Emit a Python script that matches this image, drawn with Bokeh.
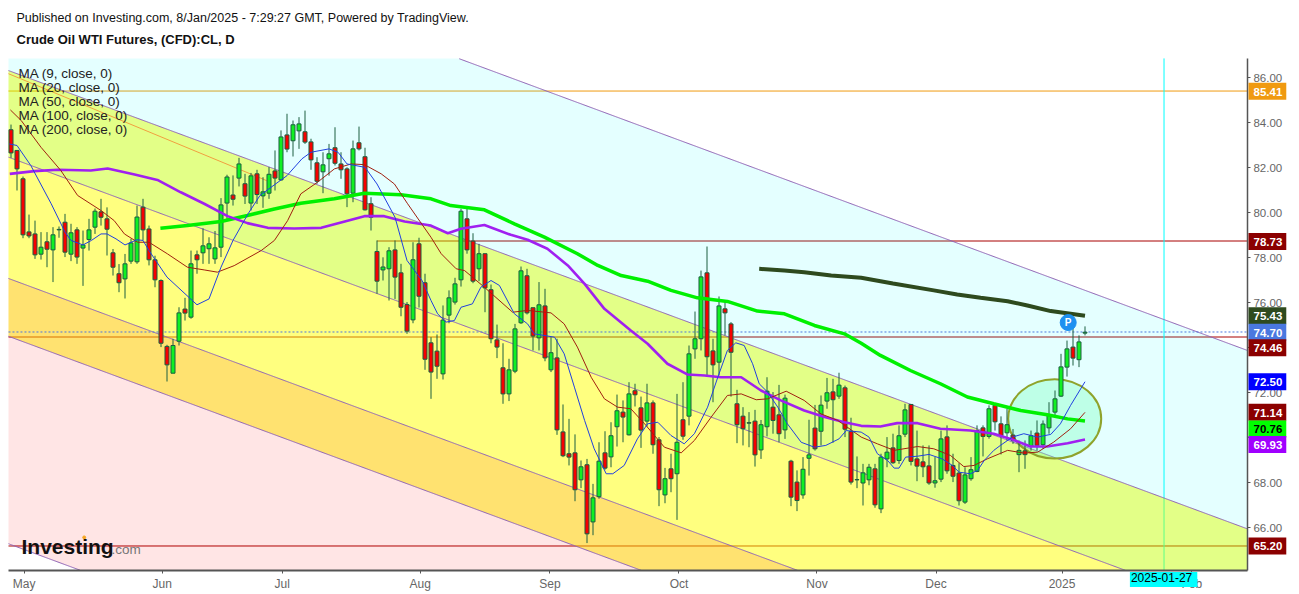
import numpy as np
from bokeh.plotting import figure
from bokeh.models import Range1d, LinearAxis, FixedTicker, Label, NumeralTickFormatter
from bokeh.core.properties import value
from bokeh.embed import file_html
from bokeh.resources import INLINE

open_ = [83.70,82.78,81.52,79.16,79.07,78.17,78.72,78.36,79.25,79.59,
78.17,79.25,78.44,78.82,79.37,80.05,79.74,78.23,77.30,77.07,
77.86,77.83,80.26,79.29,77.92,77.00,74.07,72.88,74.30,75.73,
75.37,78.14,78.23,78.41,77.96,78.48,80.44,80.80,81.55,81.30,
80.44,81.74,80.76,80.88,81.87,81.47,83.47,83.21,83.65,83.61,
83.16,82.23,81.83,82.41,82.90,82.18,81.96,80.88,83.12,82.50,
80.41,78.29,77.47,77.52,78.36,77.34,75.93,75.25,78.63,76.90,
74.23,73.86,72.85,75.46,76.04,77.03,79.74,78.75,77.52,78.19,
76.59,74.36,73.12,71.96,72.97,75.12,77.21,75.79,74.45,75.87,
73.03,73.56,70.27,69.30,69.34,68.14,68.81,66.27,67.39,69.34,
69.16,70.50,71.15,70.14,72.10,71.34,70.75,71.56,69.92,67.47,
68.63,68.41,70.81,70.97,73.96,74.41,77.34,73.87,73.37,75.74,
75.07,71.52,70.97,70.68,70.75,69.47,70.50,71.37,71.03,70.36,
68.97,68.04,67.47,69.10,70.44,70.30,71.64,72.05,71.86,72.23,
70.29,68.15,68.00,68.14,68.63,66.85,69.07,69.56,69.00,70.17,
71.49,69.07,68.94,68.76,68.00,68.17,70.05,68.78,68.44,67.15,
68.19,68.51,70.45,70.07,71.45,70.63,70.23,70.13,69.26,69.43,
69.64,70.22,69.70,70.45,71.15,71.86,73.15,74.04,73.48,74.66]
close = [82.67,81.96,79.03,78.98,78.14,78.48,78.39,79.03,79.27,78.26,
79.12,78.04,78.58,79.25,80.08,79.81,79.28,77.59,76.90,77.74,
78.67,79.82,79.25,77.92,77.03,74.21,73.25,74.11,75.56,75.55,
77.74,77.92,78.54,78.63,78.45,80.36,81.60,80.61,82.18,80.75,
81.65,80.82,80.94,81.72,81.55,83.38,82.84,83.92,83.96,83.15,
82.36,81.41,82.14,82.63,82.21,81.92,80.85,82.85,82.85,80.14,
79.81,76.97,77.60,78.32,77.15,75.81,74.75,77.92,76.30,73.50,
72.93,73.19,75.24,76.23,76.85,80.08,78.36,76.97,78.19,76.67,
74.41,74.04,71.96,73.03,74.85,77.43,75.56,74.53,75.92,73.56,
73.79,70.36,69.21,69.15,67.70,68.72,65.74,67.34,68.97,68.66,
70.10,71.21,70.93,71.96,71.92,70.35,71.56,69.70,67.70,68.19,
68.19,69.81,70.08,73.74,74.41,77.16,73.61,73.25,75.87,75.56,
73.81,70.59,70.41,70.66,69.25,70.59,72.08,70.78,70.19,71.77,
67.37,67.22,68.61,69.25,69.52,71.46,72.01,71.70,72.35,70.39,
68.04,68.14,68.45,68.70,67.03,69.15,69.37,68.90,70.10,71.25,
68.96,68.75,68.72,68.00,68.10,69.96,68.54,68.30,67.21,68.36,
68.59,70.33,70.07,71.30,70.72,70.10,70.59,69.89,69.45,69.26,
70.10,69.67,70.62,71.04,71.74,73.16,73.96,73.55,74.27,74.70]
high = [83.93,82.80,81.62,79.93,79.66,79.15,79.15,79.37,79.40,79.96,
79.52,79.37,79.22,79.74,80.20,80.63,80.25,78.40,77.73,78.18,
78.85,80.33,80.63,79.44,78.10,77.05,74.14,74.41,75.81,76.23,
78.33,78.33,79.32,78.92,79.20,80.66,81.70,81.67,82.45,81.74,
81.78,81.92,81.59,82.04,82.78,83.67,84.41,84.11,84.26,84.55,
83.30,82.48,82.70,83.07,83.81,82.70,82.03,83.22,83.84,82.90,
80.70,78.78,78.03,78.48,78.78,77.74,76.04,78.70,78.90,77.30,
74.48,74.60,75.89,76.56,77.12,80.19,80.19,79.10,78.63,78.20,
76.82,75.04,74.21,73.52,75.07,77.62,77.52,75.79,76.93,76.63,
74.48,74.41,71.49,70.85,70.16,69.00,69.07,67.96,69.81,70.30,
70.70,71.93,71.67,72.48,72.41,71.84,72.41,71.67,70.04,68.67,
69.30,71.96,72.48,74.11,75.62,77.44,78.51,74.41,76.29,76.04,
75.15,72.14,71.37,71.15,71.25,70.80,72.70,72.04,72.36,71.93,
69.03,68.56,69.15,70.81,71.47,71.89,72.67,72.63,72.90,72.33,
70.90,69.18,68.85,68.85,68.85,69.30,70.04,70.19,70.56,71.52,
71.49,70.33,69.67,69.67,69.15,70.33,70.56,69.30,68.88,68.70,
69.15,70.56,70.56,71.45,71.52,70.96,71.30,70.40,69.89,69.89,
70.33,70.78,70.78,71.59,72.11,73.74,74.33,74.93,74.56,74.96]
low = [82.45,81.00,78.88,78.88,77.96,77.93,77.59,76.93,78.90,78.04,
77.86,77.74,76.76,78.33,79.07,79.44,78.11,77.22,76.48,76.20,
77.74,77.74,78.78,77.67,76.70,74.04,72.51,72.88,74.11,75.22,
75.30,77.30,77.74,77.74,77.74,78.04,79.67,80.33,81.18,80.40,
80.11,80.40,80.23,80.63,81.00,81.44,82.70,82.51,82.85,83.07,
81.92,81.30,80.88,81.66,82.11,81.52,80.26,80.48,82.78,80.11,
79.22,76.41,77.00,76.11,76.18,75.41,74.63,75.10,75.80,73.03,
71.74,72.63,72.60,75.10,75.93,76.73,78.19,76.88,76.97,75.59,
74.21,73.55,71.52,71.64,72.88,75.07,75.49,73.89,73.89,73.41,
72.93,70.14,69.15,68.78,67.19,67.77,65.33,65.68,67.30,68.59,
68.70,69.62,69.81,70.11,71.40,69.56,70.51,69.30,66.97,67.10,
67.59,66.36,69.92,70.56,73.52,73.89,72.78,71.59,72.78,74.56,
71.84,69.77,69.67,69.59,68.73,69.07,70.07,70.19,69.81,69.96,
66.97,66.75,67.30,68.33,69.44,69.67,71.30,69.79,71.74,70.04,
67.93,67.77,67.00,67.90,66.90,66.66,68.70,68.85,68.85,70.04,
68.78,68.08,68.26,67.92,67.79,68.04,68.41,68.04,67.00,67.07,
68.10,68.48,69.18,69.97,70.33,69.27,69.89,69.74,68.48,68.63,
69.44,69.44,69.52,70.19,71.00,71.82,72.73,73.22,73.15,74.56]

ma9_x = [-0.3,1,3.3,6.7,9,10,12,13.4,15,16,17.5,19,21,22,23,26,29,31,33,35,37,39.5,41.5,44.5,46,48.5,50,53,54.5,56,59,61,64,66,68.5,70,
71.1,72.5,73.9,75,76.9,78.3,80,81.4,83.9,86.1,87.2,90.6,92.2,93.9,95.6,97.2,99.2,100.3,102.2,104.4,106.1,107.8,110,112.2,113.9,116.1,117.8,119.4,120.8,122.2,123.6,124.7,126.1,127.8,129.4,131.7,133.9,135.8,138,139.2,141.7,
143,144.4,146.1,147.2,148,149.1,151.1,153,155.2,156.9,158,159.9,161.1,162.2,163.8,164.9,166.9,168.8,171.1,173.3,174.9,176.6,179]
ma9_v = [83.07,83.0,82.11,80.41,79.15,78.78,78.58,78.78,79.07,79.07,78.85,78.58,78.81,78.78,78.33,77.15,76.41,75.92,76.18,77.59,78.78,79.96,80.78,81.37,81.66,82.41,82.7,82.85,82.7,82.18,82.03,81.29,79.81,77.89,77.0,76.11,
75.52,75.15,75.22,75.81,75.96,76.7,77.0,76.78,75.52,75.07,74.63,74.48,73.74,72.26,70.78,69.52,68.41,68.41,68.78,69.96,70.63,70.7,70.11,69.74,70.19,71.37,72.7,73.89,74.23,74.11,73.3,72.41,72.04,71.37,70.63,69.81,69.59,69.67,69.96,70.33,70.26,
70.04,69.3,69.0,68.66,68.66,69.15,69.19,69.27,69.07,68.78,68.48,68.41,68.56,69.0,69.45,69.67,70.04,70.19,70.04,70.16,70.63,71.45,72.5]
ma20_x = [-0.1,1.7,5,8.3,11.1,15,17.2,18.9,21.1,23,26.1,29.4,32.2,34.4,37.2,41.7,43.9,46.1,48.3,51.1,53.9,56.7,58.9,61.7,63.9,66.1,70,
71.7,74.2,75.6,78.9,83.6,86.1,90,92.2,94.4,96.7,98.9,101.1,103.3,105.6,108.9,111.7,113.9,116.7,119.4,121.7,124.2,126.1,129.2,132.2,135,137.8,141.7,
144.4,147.2,151.1,153.8,156.6,158.8,160.5,162.7,166.1,168.8,171.1,173.8,176.6,179]
ma20_v = [84.58,84.11,82.92,81.89,80.78,80.11,79.66,79.07,78.7,78.7,78.18,77.59,77.47,77.37,77.66,78.33,78.78,79.66,80.85,81.37,81.96,82.18,82.15,81.74,81.29,80.41,78.92,
78.19,77.52,77.44,76.7,75.59,75.67,75.56,75.07,74.04,72.7,71.74,71.37,71.3,70.63,69.59,69.34,69.89,70.93,71.89,71.96,71.7,71.74,72.08,71.67,71.07,70.78,70.04,
69.74,69.45,69.62,69.52,69.22,68.73,68.78,69.07,69.45,69.33,69.37,69.82,70.41,71.14]
ma50_x = [-0.2,3.9,7.8,13.3,16.1,20.6,24.4,28.3,32.2,36.1,39.4,42.8,47.2,51.7,56.1,58.9,62.2,65.6,70,
72.8,75,78.9,83.3,86.1,89.4,92.8,95.6,98.9,103.3,106.1,109.4,112.8,115.6,118.3,121.7,125,128.3,132.2,135.6,138.9,141.7,
144.9,147.7,151.1,154.9,159.9,163.8,166.6,169.9,172.7,176.1,179]
ma50_v = [81.74,81.86,81.92,81.89,81.98,81.71,81.47,80.92,80.41,79.86,79.55,79.34,79.31,79.34,79.66,79.86,79.86,79.62,79.44,
79.1,79.3,79.47,79.03,78.81,78.41,77.67,76.85,75.74,74.78,74.19,73.3,72.82,72.78,72.7,72.7,72.11,71.67,71.22,70.93,70.7,70.54,
70.51,70.66,70.66,70.41,70.33,70.19,69.96,69.62,69.62,69.77,69.93]
ma100_x = [24.9,29.4,35,39.4,43.9,48.3,53.9,58.9,65,70,73.3,78.9,83.9,88.9,94.4,97.8,101.7,106.1,110,114.4,119.4,124.4,128.9,133.9,138.9,141.7,144.9,149.9,154.9,159.4,163.8,168.3,172.7,176.1,179]
ma100_v = [79.32,79.44,79.62,79.89,80.18,80.43,80.63,80.88,80.81,80.63,80.33,80.14,79.52,78.93,78.19,77.67,77.22,76.97,76.56,76.23,76.07,75.64,75.52,75.0,74.63,74.21,73.67,73.0,72.41,71.82,71.52,71.22,71.03,70.85,70.76]
ma200_x = [124.7,128.9,132.2,136.7,141.7,147,153.8,157.7,161.6,166.1,169.4,173.3,179]
ma200_v = [77.52,77.44,77.37,77.22,77.12,76.87,76.56,76.38,76.23,76.08,75.89,75.64,75.43]

chan_x = [-0.42, 206.08]
chan_a = [94.27, 73.89]
chan_b = [86.33, 65.96]
chan_c = [82.48, 62.11]
chan_d = [77.09, 56.72]
chan_e = [74.52, 54.15]
chan_f = [65.30, 44.94]
chan_mid_x = [-0.42, 42.6]
chan_mid = [86.19, 81.44]

level_orange = 85.42
level_resist = 78.755
level_last = 74.711
level_support = 74.488
level_floor = 65.20

tick_prices = [66, 68, 70, 72, 74, 76, 78, 80, 82, 84, 86]
month_ticks = [2.2, 25.2, 45.2, 68.2, 89.83, 111.33, 134.33, 154.17, 175.17, 196.8]
month_names = ["May", "Jun", "Jul", "Aug", "Sep", "Oct", "Nov", "Dec", "2025", "Feb"]
legend_names = ["MA (9, close, 0)", "MA (20, close, 0)", "MA (50, close, 0)", "MA (100, close, 0)", "MA (200, close, 0)"]
price_tags = [85.41, 78.73, 75.43, 74.70, 74.46, 72.50, 71.14, 70.76, 69.93, 65.20]
tag_shift = [0, 0, 0, 0, -10, 0, 0, -8, -5, 0]
tag_fill = ["#F09A10", "#8B0000", "#2E4A1E", "#4A78E0", "#8B0000", "#0000FF", "#8B0000", "#00FF00", "#A000FF", "#8B0000"]
tag_text = ["white", "white", "white", "white", "white", "white", "white", "black", "white", "white"]

FONT = "Liberation Sans"
X0, X1 = chan_x
Y0, Y1 = 64.11, 86.87
p = figure(width=1299, height=594, output_backend="svg", toolbar_location=None,
           x_range=Range1d(-1.75, 214.75), y_range=Range1d(63.044, 89.444),
           min_border=0, x_axis_location=None, y_axis_location=None, outline_line_color=None)
p.xgrid.visible = False
p.ygrid.visible = False
p.background_fill_color = "white"
p.border_fill_color = "white"

p.line([X0, X1], [level_orange] * 2, line_color="#F09A10", line_width=1)
p.line([61, X1], [level_resist] * 2, line_color="#A80000", line_width=1)
p.line([X0, X1], [level_support] * 2, line_color="#A80000", line_width=1)
p.line([X0, X1], [level_floor] * 2, line_color="#A80000", line_width=1)
p.line([192.17, 192.17], [Y0, Y1], line_color="#00FFFF", line_width=1)

xd = np.linspace(X0, X1, 1301)
def chan_curve(ch):
    return np.interp(xd, chan_x, ch)
for lo, hi, col, a in [(chan_b, chan_a, "#00FFFF", 0.105), (chan_c, chan_b, "#C4FF00", 0.47),
                       (chan_d, chan_c, "#FFFF00", 0.5), (chan_e, chan_d, "#FFCC00", 0.56),
                       (chan_f, chan_e, "#FF0000", 0.1)]:
    p.varea(xd, np.clip(chan_curve(lo), Y0, Y1), np.clip(chan_curve(hi), Y0, Y1), fill_color=col, fill_alpha=a)
for ch in (chan_a, chan_b, chan_c, chan_d, chan_e, chan_f):
    yy = chan_curve(ch)
    keep = (yy >= Y0) & (yy <= Y1)
    p.line(xd[keep], yy[keep], line_color="#8E62B4", line_width=1)
p.line(chan_mid_x, chan_mid, line_color="#F0A040", line_width=1)

p.line([X0, X1], [level_last] * 2, line_color="#4A78E0", line_width=1, line_dash="2 2")

p.ellipse(x=[173.95], y=[70.85], width=[15.5], height=[3.52], fill_color="#66FFB0", fill_alpha=0.3,
          line_color="#8FA32B", line_width=2)

idx = list(range(len(close)))
p.segment(idx, high, idx, low, line_color="#1C5F40", line_width=1)
up = [i for i in idx if close[i] >= open_[i]]
dn = [i for i in idx if close[i] < open_[i]]
p.vbar(up, 0.6667, [open_[i] for i in up], [close[i] for i in up],
       fill_color="#11F022", line_color="#1C5F40", line_width=1)
p.vbar(dn, 0.6667, [close[i] for i in dn], [open_[i] for i in dn],
       fill_color="#F80000", line_color="#1C5F40", line_width=1)

p.line(ma200_x, ma200_v, line_color="#2E4A1E", line_width=4)
p.line(ma100_x, ma100_v, line_color="#00F000", line_width=3.5)
p.line(ma50_x, ma50_v, line_color="#A020F0", line_width=2.6)
p.line(ma20_x, ma20_v, line_color="#A02010", line_width=1)
p.line(ma9_x, ma9_v, line_color="#2040E0", line_width=1)

p.scatter([176.2], [75.13], size=16, fill_color="#1E90F0", line_color="#1E90F0")
p.text([176.2], [75.13], text=["P"], text_color="white", text_font=value(FONT), text_font_style="bold",
       text_font_size="10px", text_align="center", text_baseline="middle")

xax = LinearAxis(ticker=FixedTicker(ticks=month_ticks), fixed_location=Y0, bounds=(X0, X1),
                 major_label_overrides={t: n for t, n in zip(month_ticks, month_names)})
xax.axis_line_color = "#555555"
xax.axis_line_width = 2
xax.major_tick_line_color = "#555555"
xax.major_tick_in = 0
xax.major_tick_out = 3
xax.minor_tick_line_color = None
xax.major_label_standoff = 3
xax.major_label_text_color = "#666666"
xax.major_label_text_font = FONT
xax.major_label_text_font_size = "12px"
p.add_layout(xax, "below")

yax = LinearAxis(ticker=FixedTicker(ticks=tick_prices), fixed_location=X1, bounds=(Y0, Y1),
                 formatter=NumeralTickFormatter(format="0.00"))
yax.axis_line_color = "#555555"
yax.axis_line_width = 1.5
yax.major_tick_line_color = "#555555"
yax.major_tick_in = 0
yax.major_tick_out = 3
yax.minor_tick_line_color = None
yax.major_label_standoff = 3
yax.major_label_text_color = "#666666"
yax.major_label_text_font = FONT
yax.major_label_text_font_size = "11.5px"
p.add_layout(yax, "right")

for price, shift, fill, txt in zip(price_tags, tag_shift, tag_fill, tag_text):
    p.add_layout(Label(x=1248, y=price, x_units="screen", y_units="data", y_offset=shift, text=f"{price:.2f}",
                       text_font=FONT, text_font_size="11.5px", text_font_style="bold", text_color=txt,
                       text_align="left", text_baseline="middle", background_fill_color=fill,
                       padding=(5, 4, 5, 4)))

p.add_layout(Label(x=192.1, y=15, x_units="data", y_units="screen", text="2025-01-27", text_color="black",
                   text_font=FONT, text_font_size="12px", text_align="center", text_baseline="middle",
                   background_fill_color="#00FFFF", padding=(1, 5, 1, 5)))

for i, name in enumerate(legend_names):
    p.add_layout(Label(x=18, y=521 - 14 * i, x_units="screen", y_units="screen", text=name, text_color="#222222",
                       text_font=FONT, text_font_size="13.5px", text_align="left", text_baseline="middle"))

p.add_layout(Label(x=16, y=577, x_units="screen", y_units="screen", text="Published on Investing.com, 8/Jan/2025 - 7:29:27 GMT, Powered by TradingView.",
                   text_color="#111111", text_font=FONT, text_font_size="12.5px", text_align="left", text_baseline="middle"))
p.add_layout(Label(x=16, y=555, x_units="screen", y_units="screen", text="Crude Oil WTI Futures, (CFD):CL, D",
                   text_color="#111111", text_font=FONT, text_font_size="13px", text_font_style="bold",
                   text_align="left", text_baseline="middle"))

p.add_layout(Label(x=21, y=48, x_units="screen", y_units="screen", text="Investing", text_color="#111111",
                   text_font=FONT, text_font_size="21px", text_font_style="bold", text_align="left", text_baseline="middle"))
p.add_layout(Label(x=111, y=45, x_units="screen", y_units="screen", text=".com", text_color="#777777",
                   text_font=FONT, text_font_size="13.5px", text_align="left", text_baseline="middle"))
p.scatter([12.2], [65.58], size=3, fill_color="#F5A623", line_color="#F5A623")

open("out.html", "w").write(file_html(p, INLINE))
